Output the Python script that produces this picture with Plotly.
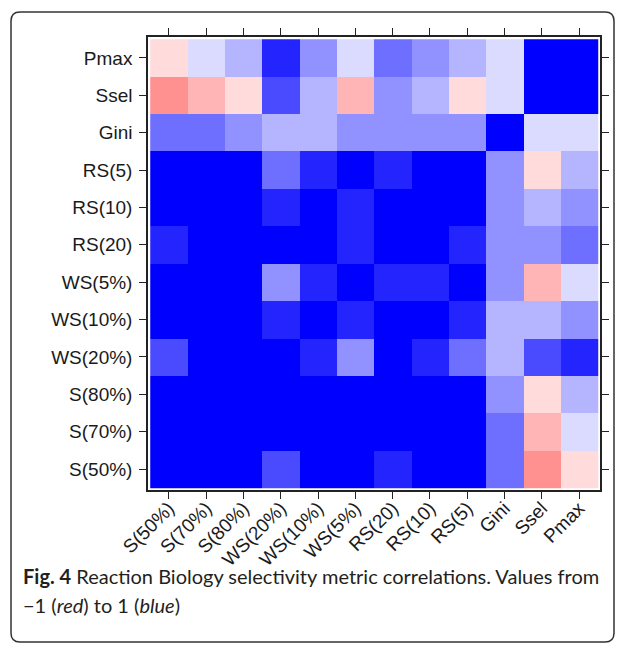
import plotly.graph_objects as go

# Metric labels (x: left->right, y: bottom->top)
metrics = ["S(50%)", "S(70%)", "S(80%)", "WS(20%)", "WS(10%)", "WS(5%)",
           "RS(20)", "RS(10)", "RS(5)", "Gini", "Ssel", "Pmax"]

# Correlation values, one list per row (row metric), columns in `metrics` order
r_pmax  = [-0.14, 0.14, 0.29, 0.86, 0.43, 0.14, 0.57, 0.43, 0.29, 0.14, 1.00, 1.00]
r_ssel  = [-0.43, -0.29, -0.14, 0.71, 0.29, -0.29, 0.43, 0.29, -0.14, 0.14, 1.00, 1.00]
r_gini  = [0.57, 0.57, 0.43, 0.29, 0.29, 0.43, 0.43, 0.43, 0.43, 1.00, 0.14, 0.14]
r_rs5   = [1.00, 1.00, 1.00, 0.57, 0.86, 1.00, 0.86, 1.00, 1.00, 0.43, -0.14, 0.29]
r_rs10  = [1.00, 1.00, 1.00, 0.86, 1.00, 0.86, 1.00, 1.00, 1.00, 0.43, 0.29, 0.43]
r_rs20  = [0.86, 1.00, 1.00, 1.00, 1.00, 0.86, 1.00, 1.00, 0.86, 0.43, 0.43, 0.57]
r_ws5   = [1.00, 1.00, 1.00, 0.43, 0.86, 1.00, 0.86, 0.86, 1.00, 0.43, -0.29, 0.14]
r_ws10  = [1.00, 1.00, 1.00, 0.86, 1.00, 0.86, 1.00, 1.00, 0.86, 0.29, 0.29, 0.43]
r_ws20  = [0.71, 1.00, 1.00, 1.00, 0.86, 0.43, 1.00, 0.86, 0.57, 0.29, 0.71, 0.86]
r_s80   = [1.00, 1.00, 1.00, 1.00, 1.00, 1.00, 1.00, 1.00, 1.00, 0.43, -0.14, 0.29]
r_s70   = [1.00, 1.00, 1.00, 1.00, 1.00, 1.00, 1.00, 1.00, 1.00, 0.57, -0.29, 0.14]
r_s50   = [1.00, 1.00, 1.00, 0.71, 1.00, 1.00, 0.86, 1.00, 1.00, 0.57, -0.43, -0.14]

# rows bottom -> top, matching metrics order
z = [r_s50, r_s70, r_s80, r_ws20, r_ws10, r_ws5, r_rs20, r_rs10, r_rs5, r_gini, r_ssel, r_pmax]

W, H = 622, 645
L, R, T, B = 148, 22, 37, 155
pw, ph = W - L - R, H - T - B

def px(x):
    return (x - L) / pw

def py(y):
    return (H - B - y) / ph

fig = go.Figure(go.Heatmap(
    z=z, x=metrics, y=metrics,
    colorscale=[[0, "rgb(255,0,0)"], [0.5, "rgb(255,255,255)"], [1, "rgb(0,0,255)"]],
    zmin=-1, zmax=1, showscale=False, hoverongaps=False,
))

axis_common = dict(
    showline=True, linecolor="#222", linewidth=1.5, mirror="ticks",
    ticks="outside", ticklen=7, tickcolor="#222", tickwidth=1.2,
    showgrid=False, zeroline=False,
    range=[-0.56, 11.56],
)
fig.update_xaxes(**axis_common, tickangle=-45, type="category", ticklabelstandoff=-9,
                 tickfont=dict(family="Liberation Sans", size=19, color="#1a1a1a"))
fig.update_yaxes(**axis_common, type="category", ticklabelstandoff=3,
                 tickfont=dict(family="Liberation Sans", size=19, color="#1a1a1a"))

# Rounded outer frame
x0, y0, x1, y1, rr = 11, 12, 614, 642, 9
path = (f"M {px(x0+rr)},{py(y0)} L {px(x1-rr)},{py(y0)} Q {px(x1)},{py(y0)} {px(x1)},{py(y0+rr)} "
        f"L {px(x1)},{py(y1-rr)} Q {px(x1)},{py(y1)} {px(x1-rr)},{py(y1)} "
        f"L {px(x0+rr)},{py(y1)} Q {px(x0)},{py(y1)} {px(x0)},{py(y1-rr)} "
        f"L {px(x0)},{py(y0+rr)} Q {px(x0)},{py(y0)} {px(x0+rr)},{py(y0)} Z")
fig.add_shape(type="path", path=path, xref="paper", yref="paper",
              line=dict(color="#333", width=1.5), layer="below")

cap_font = dict(family="Lato", size=20, color="#231f20")
fig.add_annotation(x=px(21), y=py(576), xref="paper", yref="paper",
                   xanchor="left", yanchor="middle", showarrow=False, align="left",
                   text="<b>Fig. 4</b> Reaction Biology selectivity metric correlations. Values from",
                   font=cap_font)
fig.add_annotation(x=px(21), y=py(605), xref="paper", yref="paper",
                   xanchor="left", yanchor="middle", showarrow=False, align="left",
                   text="\u22121 (<i>red</i>) to 1 (<i>blue</i>)",
                   font=cap_font)

fig.update_layout(
    width=W, height=H,
    margin=dict(l=L, r=R, t=T, b=B),
    paper_bgcolor="white", plot_bgcolor="white",
)

fig.write_html("out.html")
